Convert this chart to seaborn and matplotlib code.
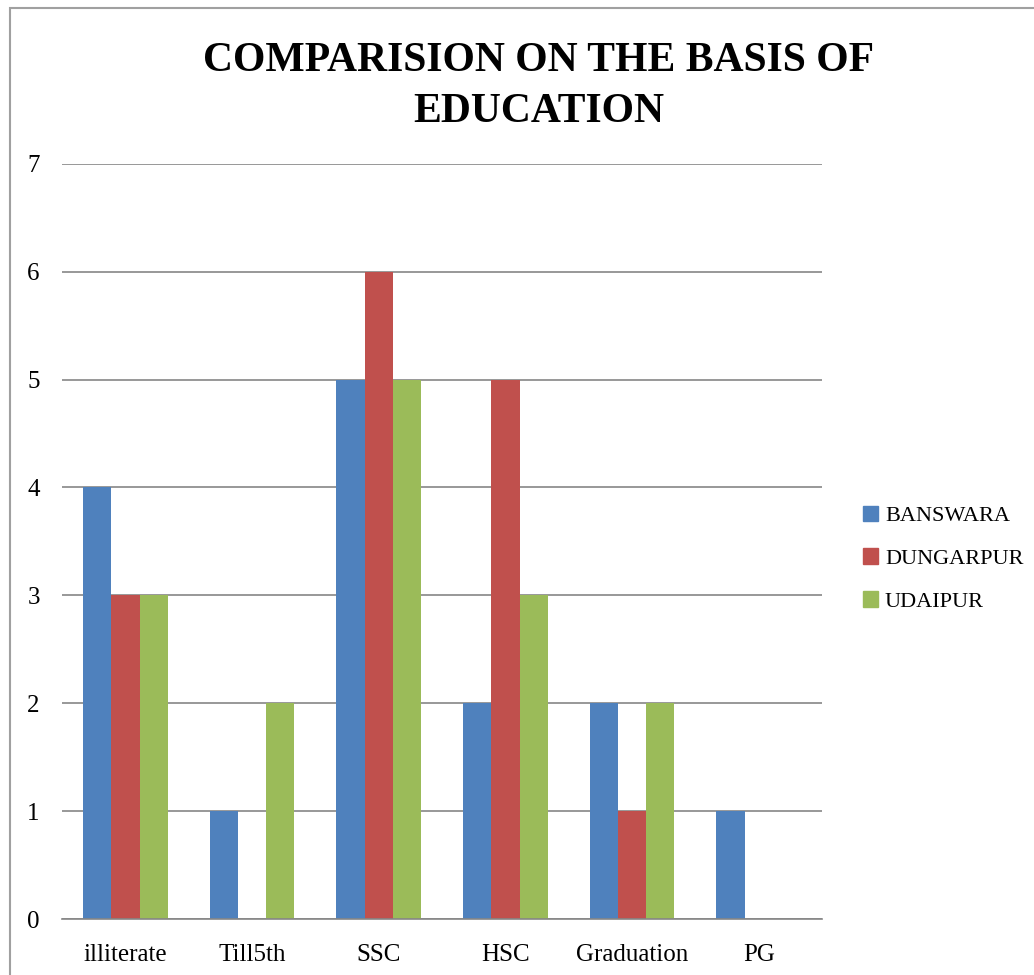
import pandas as pd
import numpy as np
import matplotlib.pyplot as plt
import matplotlib.patches as mpatches
import seaborn as sns

sns.set_theme(style="white")
plt.rcParams['font.family'] = ['Liberation Serif', 'DejaVu Serif']
plt.rcParams['text.color'] = 'black'

# dados
niveis = ['illiterate', 'Till5th', 'SSC', 'HSC', 'Graduation', 'PG']
banswara = [4, 1, 5, 2, 2, 1]
dungarpur = [3, 0, 6, 5, 1, 0]
udaipur = [3, 2, 5, 3, 2, 0]
distritos = ['BANSWARA', 'DUNGARPUR', 'UDAIPUR']
cores = ['#4F81BD', '#C0504D', '#9BBB59']

df = pd.DataFrame({
    'Nivel': niveis * 3,
    'Distrito': [d for d in distritos for _ in niveis],
    'Valor': banswara + dungarpur + udaipur,
})

fig = plt.figure(figsize=(10.34, 9.75), dpi=100)
ax = fig.add_axes([0.060, 0.0574, 0.735, 0.7746])

sns.barplot(data=df, x='Nivel', y='Valor', hue='Distrito', palette=cores,
            width=0.67, saturation=1, linewidth=0, ax=ax, legend=False)

ax.set_xlim(-0.5, 5.5)
ax.set_ylim(0, 7)
ax.set_yticks(range(8))
ax.yaxis.grid(True, color='#868686', linewidth=1.2)
ax.set_axisbelow(True)
for s in ['top', 'right', 'left']:
    ax.spines[s].set_visible(False)
ax.spines['bottom'].set_color('#868686')
ax.spines['bottom'].set_linewidth(1.2)
ax.tick_params(axis='both', length=0, labelsize=18, labelcolor='black')
ax.tick_params(axis='y', pad=16)
ax.tick_params(axis='x', pad=18)
ax.set_xlabel('')
ax.set_ylabel('')

fig.text(0.521, 0.911, 'COMPARISION ON THE BASIS OF\nEDUCATION', ha='center', va='center',
         fontsize=30, fontweight='bold', linespacing=1.45, color='black')

handles = [mpatches.Patch(color=c, label=d) for c, d in zip(cores, distritos)]
fig.legend(handles=handles, loc='center left', bbox_to_anchor=(0.815, 0.427),
           frameon=False, fontsize=16, handlelength=0.7, handleheight=0.7,
           handletextpad=0.3, labelspacing=1.0, labelcolor='black')

# moldura do gráfico
fig.patches.append(mpatches.Rectangle((10 / 1034, -0.1), 1.2, 1 - 8 / 975 + 0.1,
                                      transform=fig.transFigure, fill=False,
                                      edgecolor='#a0a0a0', linewidth=1.5))

fig.savefig('out.png', dpi=100)
